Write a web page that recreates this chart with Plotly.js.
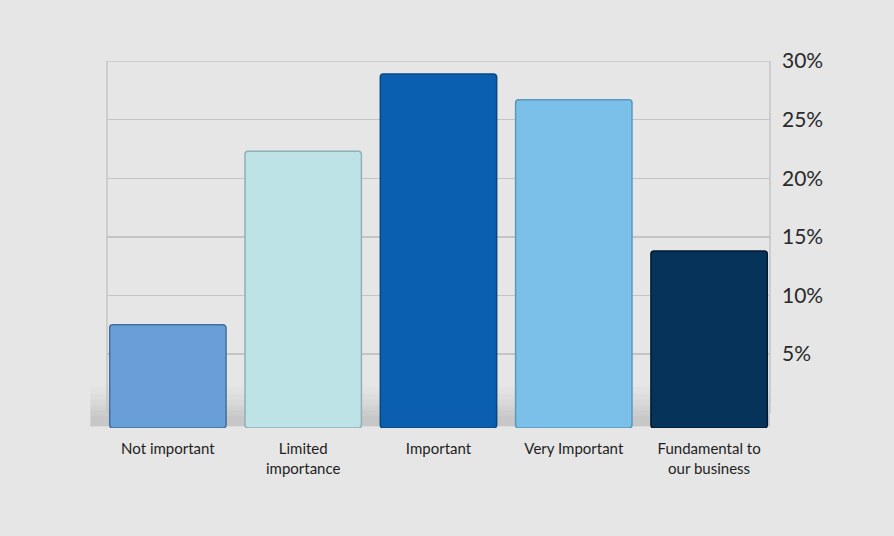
<!DOCTYPE html>
<html>
<head>
<meta charset="utf-8">
<script src="https://cdn.plot.ly/plotly-3.0.1.min.js"></script>
<style>
html,body{margin:0;padding:0;background:#e5e6e5;}
#chart{width:894px;height:536px;}
</style>
</head>
<body>
<div id="chart"></div>
<script>
const categories = ["Not important", "Limited<br>importance", "Important", "Very Important", "Fundamental to<br>our business"];
const values = [7.5, 22.3, 28.9, 26.7, 13.8];
const barColors = ["#699fd9", "#bee3e6", "#0b5fb1", "#7bc0e8", "#06335a"];
const edgeColors = ["#41709f", "#8fb0b6", "#084882", "#5a98c0", "#021a30"];
const tickVals = [5, 10, 15, 20, 25, 30];
const tickText = ["5%", "10%", "15%", "20%", "25%", "30%"];
const floorLevel = -1.3;

const bars = {
  type: "bar",
  x: categories,
  y: values.map(v => v - floorLevel),
  base: floorLevel,
  width: 0.86,
  marker: {
    color: barColors,
    line: {color: edgeColors, width: 1.5},
    cornerradius: 3
  },
  hoverinfo: "skip"
};

const shapes = [];
// soft floor shadow (layered translucent bands)
const bands = [[2.2, 0.025], [1.6, 0.03], [1.1, 0.035], [0.6, 0.04], [0.2, 0.04], [-0.3, 0.04]];
bands.forEach(b => {
  shapes.push({type: "rect", xref: "paper", yref: "y", x0: -0.025, x1: 1.0, y0: floorLevel + 0.15, y1: b[0],
    fillcolor: "rgba(80,80,80," + b[1] + ")", line: {width: 0}, layer: "below"});
});
// frame verticals and top line
const frameColor = "#c4c4c4";
shapes.push({type: "line", xref: "paper", yref: "y", x0: 0, x1: 0, y0: 0, y1: 30, line: {color: frameColor, width: 1.5}, layer: "below"});
shapes.push({type: "line", xref: "paper", yref: "y", x0: 1, x1: 1, y0: 0, y1: 30, line: {color: frameColor, width: 1.5}, layer: "below"});
shapes.push({type: "line", xref: "paper", yref: "y", x0: 0, x1: 1, y0: 30, y1: 30, line: {color: frameColor, width: 1.5}, layer: "below"});

const layout = {
  width: 894,
  height: 536,
  paper_bgcolor: "#e5e6e5",
  plot_bgcolor: "rgba(0,0,0,0)",
  margin: {l: 107, r: 124, t: 61, b: 108},
  showlegend: false,
  xaxis: {
    range: [-0.45, 4.45],
    showgrid: false,
    zeroline: false,
    showline: false,
    ticks: "",
    ticklabelstandoff: 10,
    tickfont: {family: "Lato, 'Open Sans', sans-serif", size: 15, color: "#1e1e1e"},
    fixedrange: true
  },
  yaxis: {
    side: "right",
    range: [floorLevel, 30],
    tickvals: tickVals,
    ticktext: tickText,
    showgrid: true,
    gridcolor: frameColor,
    gridwidth: 1.5,
    zeroline: false,
    showline: false,
    ticks: "",
    ticklabelstandoff: 11,
    tickfont: {family: "Lato, 'Open Sans', sans-serif", size: 21, color: "#2a2a2a"},
    fixedrange: true
  },
  shapes: shapes
};

Plotly.newPlot("chart", [bars], layout, {displayModeBar: false, staticPlot: true});
</script>
</body>
</html>
